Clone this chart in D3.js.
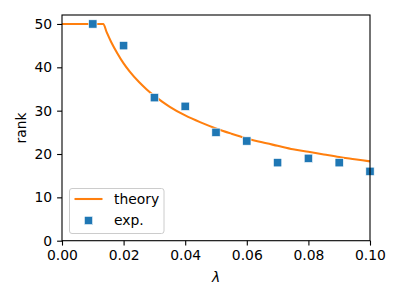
<!DOCTYPE html>
<html><head><meta charset="utf-8">
<script src="https://cdn.jsdelivr.net/npm/d3@7"></script>
<style>body{margin:0;background:#fff}svg{display:block}text{font-family:"DejaVu Sans",sans-serif}</style>
</head><body><svg id="c" width="400" height="300"></svg>
<script>
const expLambda = [0.01,0.02,0.03,0.04,0.05,0.06,0.07,0.08,0.09,0.10];
const expRank = [50,45,33,31,25,23,18,19,18,16];
const theoryLambda = [0,0.0134,0.0145,0.016,0.018,0.02,0.022,0.025,0.0275,0.03,0.0325,0.035,0.04,0.045,0.05,0.055,0.06,0.065,0.07,0.075,0.08,0.085,0.09,0.095,0.1];
const theoryRank = [50,50,48.1,45.8,43.2,40.9,39.0,36.6,34.9,33.4,32.1,30.9,28.9,27.3,25.9,24.7,23.6,22.7,21.9,21.1,20.5,19.9,19.3,18.8,18.3];
const xTicks = [0,0.02,0.04,0.06,0.08,0.10];
const yTicks = [0,10,20,30,40,50];

const L=62,R=370,T=15,B=240.7;
const svg=d3.select("#c");
const x=d3.scaleLinear().domain([0,0.1]).range([L,R]);
const y=d3.scaleLinear().domain([0,52.07]).range([B,T]);

const line=d3.line().x((d,i)=>x(theoryLambda[i])).y(d=>y(d)).curve(d3.curveMonotoneX);
svg.append("path").attr("d",line(theoryRank)).attr("fill","none").attr("stroke","#ff7f0e").attr("stroke-width",2.08);

const s=8.3;
svg.selectAll("rect.m").data(expRank).enter().append("rect").attr("class","m")
 .attr("x",(d,i)=>x(expLambda[i])-s/2).attr("y",d=>y(d)-s/2).attr("width",s).attr("height",s)
 .attr("fill","#1f77b4").attr("stroke","#fff").attr("stroke-width",0.6);

svg.append("rect").attr("x",L).attr("y",T).attr("width",R-L).attr("height",B-T).attr("fill","none").attr("stroke","#000").attr("stroke-width",1.1);

const xa=svg.append("g").attr("transform",`translate(0,${B})`).call(d3.axisBottom(x).tickValues(xTicks).tickFormat(d3.format(".2f")).tickSize(4.9).tickPadding(4.9));
const ya=svg.append("g").attr("transform",`translate(${L},0)`).call(d3.axisLeft(y).tickValues(yTicks).tickFormat(d3.format("d")).tickSize(4.9).tickPadding(4.9));
[xa,ya].forEach(a=>{a.select(".domain").remove();a.selectAll("text").attr("font-size",13.9).attr("fill","#000").attr("font-family","DejaVu Sans");a.selectAll("line").attr("stroke","#000").attr("stroke-width",1.1);});

svg.append("text").attr("x",216).attr("y",282).attr("text-anchor","middle").attr("font-size",13.9).attr("font-style","italic").text("λ");
svg.append("text").attr("transform","translate(26,128) rotate(-90)").attr("text-anchor","middle").attr("font-size",13.9).text("rank");

const lg=svg.append("g");
lg.append("rect").attr("x",69.5).attr("y",188.5).attr("width",94.5).attr("height",45).attr("rx",2.5).attr("fill","#fff").attr("fill-opacity",0.8).attr("stroke","#ccc").attr("stroke-width",1);
lg.append("line").attr("x1",74.5).attr("x2",102.5).attr("y1",199).attr("y2",199).attr("stroke","#ff7f0e").attr("stroke-width",2.08);
lg.append("rect").attr("x",88.5-s/2).attr("y",220.5-s/2).attr("width",s).attr("height",s).attr("fill","#1f77b4").attr("stroke","#fff").attr("stroke-width",0.6);
lg.append("text").attr("x",114).attr("y",204).attr("font-size",13.9).text("theory");
lg.append("text").attr("x",114).attr("y",225).attr("font-size",13.9).text("exp.");
</script></body></html>
